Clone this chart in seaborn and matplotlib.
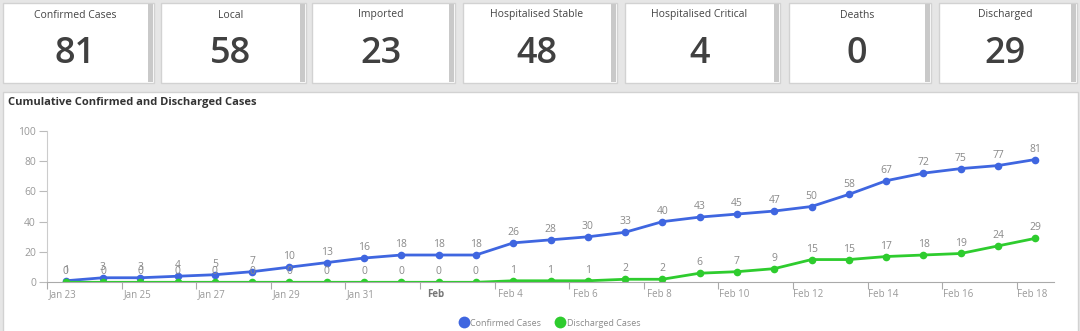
import numpy as np
import pandas as pd
import matplotlib
matplotlib.use("Agg")
import matplotlib.pyplot as plt
import seaborn as sns
from matplotlib.patches import Rectangle
from matplotlib.lines import Line2D

# ---------------- data ----------------
card_titles = ["Confirmed Cases", "Local", "Imported", "Hospitalised Stable",
               "Hospitalised Critical", "Deaths", "Discharged"]
card_values = [81, 58, 23, 48, 4, 0, 29]

dates = pd.date_range("2020-01-23", "2020-02-18", freq="D")
confirmed = [1, 3, 3, 4, 5, 7, 10, 13, 16, 18, 18, 18, 26, 28, 30, 33, 40,
             43, 45, 47, 50, 58, 67, 72, 75, 77, 81]
discharged = [0, 0, 0, 0, 0, 0, 0, 0, 0, 0, 0, 0, 1, 1, 1, 2, 2,
              6, 7, 9, 15, 15, 17, 18, 19, 24, 29]
series_names = ["Confirmed Cases", "Discharged Cases"]
tick_labels = ["Jan 23", "Jan 25", "Jan 27", "Jan 29", "Jan 31", "Feb",
               "Feb 4", "Feb 6", "Feb 8", "Feb 10", "Feb 12", "Feb 14",
               "Feb 16", "Feb 18"]
chart_title = "Cumulative Confirmed and Discharged Cases"

# ---------------- style ----------------
colors = ["#3f66e0", "#2ecc2e"]
text_gray = "#8a8a8a"
sns.set_theme(style="white")
plt.rcParams["font.family"] = ["Open Sans", "DejaVu Sans"]

W, H = 1080, 331
fig = plt.figure(figsize=(W / 100, H / 100), dpi=100)
fig.patch.set_facecolor("#e6e6e6")

# background / panels layer (pixel coordinates)
bg = fig.add_axes([0, 0, 1, 1], zorder=0)
bg.set_xlim(0, W)
bg.set_ylim(H, 0)
bg.axis("off")

card_bounds = [(3, 154), (161, 306), (312, 455), (463, 617),
               (625, 780), (789, 931), (939, 1077)]
card_top, card_bot = 3, 83
for (x0, x1), title, val in zip(card_bounds, card_titles, card_values):
    bg.add_patch(Rectangle((x0, card_top), x1 - x0, card_bot - card_top,
                           facecolor="white", edgecolor="#d2d2d2", lw=1))
    bg.add_patch(Rectangle((x1 - 6, card_top + 1), 5, card_bot - card_top - 2,
                           facecolor="#c9c9c9", edgecolor="none"))
    cx = (x0 + x1 - 6) / 2
    bg.text(cx, 15, title, ha="center", va="center", fontsize=7.5,
            color="#444444")
    bg.text(cx, 54, str(val), ha="center", va="center", fontsize=26,
            fontweight="semibold", color="#404040")

# chart panel
bg.add_patch(Rectangle((3, 92), 1075, 250, facecolor="white",
                       edgecolor="#d2d2d2", lw=1))
bg.text(8, 103, chart_title, ha="left", va="center", fontsize=8,
        fontweight="bold", color="#333333")

# ---------------- line chart ----------------
ax_left, ax_right = 47, 1054
y0_px, y100_px = 282.3, 130.7
ax = fig.add_axes([ax_left / W, (H - y0_px) / H, (ax_right - ax_left) / W,
                   (y0_px - y100_px) / H], zorder=2)
ax.patch.set_alpha(0)

n = len(dates)
pos = np.arange(n) + 0.5
df = pd.DataFrame({
    "pos": np.concatenate([pos, pos]),
    "value": confirmed + discharged,
    "series": [series_names[0]] * n + [series_names[1]] * n,
})
sns.lineplot(data=df, x="pos", y="value", hue="series", palette=colors,
             marker="o", markersize=5.5, markeredgewidth=0, linewidth=2,
             legend=False, ax=ax)

for vals in (confirmed, discharged):
    for x, v in zip(pos, vals):
        ax.annotate(str(v), (x, v), xytext=(0, 3.5), textcoords="offset points",
                    ha="center", va="bottom", fontsize=7.5, color=text_gray)

ax.set_xlim(0, n)
ax.set_ylim(0, 100)
ax.set_xlabel("")
ax.set_ylabel("")
ax.set_yticks(range(0, 101, 20))
ax.tick_params(axis="y", length=6, width=0.8, color="#bbbbbb",
               labelcolor="#999999", labelsize=7.5, pad=2, left=True)
major = np.arange(0, n, 2)
ax.set_xticks(major)
ax.set_xticklabels([])
ax.tick_params(axis="x", which="major", length=5, width=0.8, color="#aaaaaa",
               bottom=True)
ax.set_xticks(major + 0.42, tick_labels, minor=True)
ax.tick_params(axis="x", which="minor", length=0, labelcolor="#999999",
               labelsize=7, pad=5, bottom=True)
for lbl in ax.get_xticklabels(minor=True):
    if lbl.get_text() == "Feb":
        lbl.set_fontweight("bold")
        lbl.set_color("#777777")

for s in ("top", "right"):
    ax.spines[s].set_visible(False)
ax.spines["left"].set_color("#cccccc")
ax.spines["left"].set_linewidth(0.8)
ax.spines["bottom"].set_color("#aaaaaa")
ax.spines["bottom"].set_linewidth(0.8)
ax.grid(False)

handles = [Line2D([], [], marker="o", linestyle="none", markersize=8.5,
                  markerfacecolor=c, markeredgewidth=0) for c in colors]
fig.legend(handles, series_names, loc="center",
           bbox_to_anchor=(550 / W, 1 - 323 / H), ncol=2, frameon=False,
           fontsize=6.5, labelcolor=text_gray, handletextpad=0.3,
           columnspacing=1.6, handlelength=0.9)

fig.savefig("out.png", dpi=100, facecolor=fig.get_facecolor())
